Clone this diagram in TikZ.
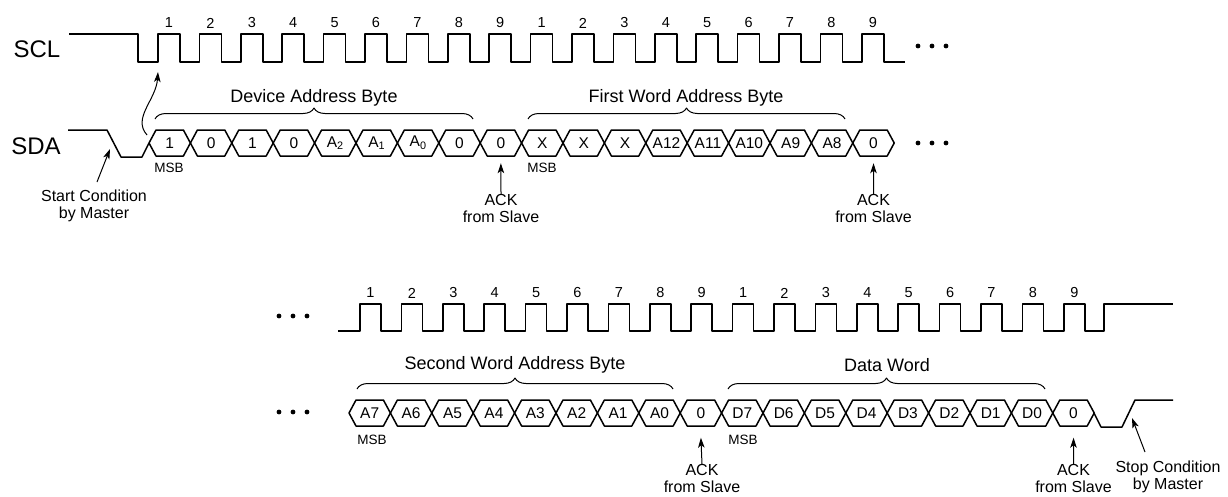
\documentclass[tikz,border=0pt]{standalone}
\usepackage{fontspec}
\setmainfont{Liberation Sans}
\usetikzlibrary{arrows.meta, decorations.pathreplacing}

\begin{document}
\begin{tikzpicture}[x = 1pt, y = -1pt, line join = round,
	wave/.style = {line width = 1.5pt},
	arr/.style = {line width = 1pt, -{Stealth[length = 10pt, width = 6.5pt, inset = 2.5pt]}},
	bit/.style = {font = \fontsize{15.5}{15.5}\selectfont, minimum height = 27pt, inner sep = 0pt},
	num/.style = {font = \fontsize{14.5}{14.5}\selectfont},
	msb/.style = {font = \fontsize{13.5}{13.5}\selectfont},
	note/.style = {font = \fontsize{16}{17}\selectfont, align = center, inner sep = 0pt},
	title/.style = {font = \fontsize{18}{18}\selectfont},
	sig/.style = {font = \fontsize{24}{24}\selectfont},
	grp/.style = {line width = 1pt, decorate, decoration = {brace, amplitude = 11pt}}]
	\useasboundingbox (0,0) rectangle (1228,496);

	\node[sig] (SCL) at (37,49) {SCL};
	\node[sig] (SDA) at (36,146) {SDA};

	\draw[wave] (69,34) -- (138,34) -- (138,62)
	\foreach \k in {0,...,17} { -- ({158+41.4*\k},62) -- ({158+41.4*\k},34) -- ({180+41.4*\k},34) -- ({180+41.4*\k},62) }
	-- (905,62);
	\draw[wave] (68,130) -- (107,130) -- (121,157) -- (142,157) -- (149,143);
	\foreach \lab [count = \k from 0] in {1, 0, 1, 0, A\textsubscript{2}, A\textsubscript{1}, A\textsubscript{0}, 0, 0, X, X, X, A12, A11, A10, A9, A8, 0} {
		\draw[wave] ({149+41.4*\k},143) -- ++(7,-13) -- ++(27.4,0) -- ++(7,13) -- ++(-7,13) -- ++(-27.4,0) -- cycle;
		\node[bit] (U\k) at ({169.7+41.4*\k},143) {\lab};
	}
	\foreach \k in {0,...,17} {
		\pgfmathtruncatemacro{\n}{mod(\k,9)+1}
		\node[num] (N\k) at ({169+41.4*\k},23) {\n};
		\node[num] (M\k) at ({370.5+41.4*\k},293) {\n};
	}

	\draw[grp] (155,119) -- (473,119);
	\node[title] (B1) at (314,98) {Device Address Byte};
	\draw[grp] (528,119) -- (845,119);
	\node[title] (B2) at (686,98) {First Word Address Byte};
	\node[msb] (MSB1) at (169,168) {MSB};
	\node[msb] (MSB2) at (542,168) {MSB};

	\node[note, anchor = north] (START) at (94,190) {Start Condition\\by Master};
	\coordinate (FALL) at (110,149);
	\draw[arr] ([shift = {(3,-8)}]START.north) -- (FALL);
	\coordinate (HOLD) at (147,135);
	\coordinate (EDGE) at (158,72);
	\draw[arr] (HOLD) .. controls (132,118) and (156,100) .. (EDGE);

	\node[note, anchor = north] (ACK1) at (501,194) {ACK\\from Slave};
	\draw[arr] (ACK1.north) -- ([yshift = -6.5pt]U8.south);
	\node[note, anchor = north] (ACK2) at (873.5,194) {ACK\\from Slave};
	\draw[arr] (ACK2.north) -- ([yshift = -6.5pt]U17.south);

	\foreach \x in {918,932,946} {
		\fill (\x,46) circle (2.4);
		\fill (\x,143) circle (2.4);
	}
	\foreach \x in {279,293,307} {
		\fill (\x,316) circle (2.4);
		\fill (\x,412) circle (2.4);
	}

	\draw[wave] (338,331)
	\foreach \k in {0,...,17} { -- ({360+41.4*\k},331) -- ({360+41.4*\k},304) -- ({381+41.4*\k},304) -- ({381+41.4*\k},331) }
	-- (1104,331) -- (1104,304) -- (1173,304);
	\foreach \lab [count = \k from 0] in {A7, A6, A5, A4, A3, A2, A1, A0, 0, D7, D6, D5, D4, D3, D2, D1, D0, 0} {
		\draw[wave] ({349+41.4*\k},413) -- ++(7,-13) -- ++(27.4,0) -- ++(7,13) -- ++(-7,13) -- ++(-27.4,0) -- cycle;
		\node[bit] (V\k) at ({369.7+41.4*\k},413) {\lab};
	}
	\draw[wave] (1094,413) -- (1101,427) -- (1122,427) -- (1135,400) -- (1173,400);

	\draw[grp] (357,389) -- (673,389);
	\node[title] (B3) at (515,365) {Second Word Address Byte};
	\draw[grp] (728,389) -- (1045,389);
	\node[title] (B4) at (887,365) {Data Word};
	\node[msb] (MSB3) at (372,440) {MSB};
	\node[msb] (MSB4) at (743,440) {MSB};

	\node[note, anchor = north] (ACK3) at (702,464) {ACK\\from Slave};
	\draw[arr] (ACK3.north) -- ([yshift = -11pt]V8.south);
	\node[note, anchor = north] (ACK4) at (1073.5,464) {ACK\\from Slave};
	\draw[arr] (ACK4.north) -- ([yshift = -11pt]V17.south);

	\node[note, anchor = north] (STOP) at (1168,461) {Stop Condition\\by Master};
	\coordinate (RISE) at (1132,418);
	\draw[arr] ([shift = {(-23,-9)}]STOP.north) -- (RISE);
\end{tikzpicture}
\end{document}
